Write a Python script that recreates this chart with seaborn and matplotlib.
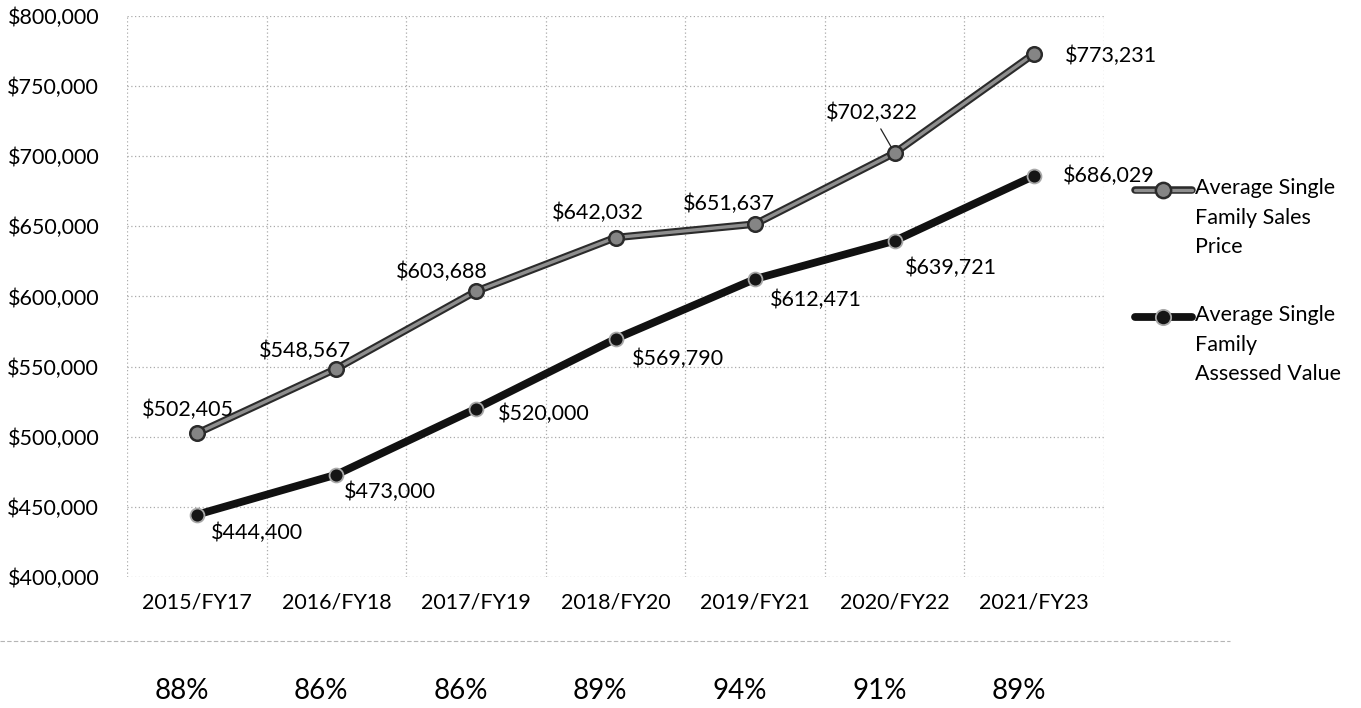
import matplotlib
matplotlib.use("Agg")
import matplotlib.pyplot as plt
import matplotlib.patheffects as pe
import matplotlib.transforms as mtransforms
from matplotlib.lines import Line2D
from matplotlib.ticker import FuncFormatter, MultipleLocator, FixedLocator
import numpy as np
import pandas as pd
import seaborn as sns

# ---- data -----------------------------------------------------------------
years = ["2015/FY17", "2016/FY18", "2017/FY19", "2018/FY20",
         "2019/FY21", "2020/FY22", "2021/FY23"]
sales_price = [502405, 548567, 603688, 642032, 651637, 702322, 773231]
assessed_value = [444400, 473000, 520000, 569790, 612471, 639721, 686029]
assessment_ratio = ["88%", "86%", "86%", "89%", "94%", "91%", "89%"]

series_names = ["Average Single Family Sales Price",
                "Average Single Family Assessed Value"]
legend_labels = ["Average Single\nFamily Sales\nPrice",
                 "Average Single\nFamily\nAssessed Value"]

# ---- label placement (pixel offsets from each point) ------------------------
sales_offsets = [(-9, 23), (-31, 18), (-34, 19), (-18, 25), (-26, 20), (-23, 40), (77, -2)]
assessed_offsets = [(60, -18), (54, -17), (68, -5), (62, -20), (61, -21), (56, -27), (75, 0)]

sns.set_theme(style="white")
plt.rcParams["font.family"] = ["Lato", "DejaVu Sans"]

df = pd.DataFrame({
    "year": years * 2,
    "value": sales_price + assessed_value,
    "series": [series_names[0]] * len(years) + [series_names[1]] * len(years),
})

W, H = 1361, 708
fig = plt.figure(figsize=(W / 100, H / 100), dpi=100)
fig.patch.set_facecolor("white")
ax = fig.add_axes([127 / W, 1 - 577 / H, (1104 - 127) / W, (577 - 16) / H])

sales_line = "#8e8e8e"
sales_edge = "#2b2b2b"
assessed_line = "#111111"

sns.lineplot(data=df, x="year", y="value", hue="series", sort=False,
             palette={series_names[0]: sales_line, series_names[1]: assessed_line},
             legend=False, ax=ax, zorder=3)
ax.lines[0].set_linewidth(2.4)
ax.lines[0].set_path_effects([pe.Stroke(linewidth=5.4, foreground=sales_edge), pe.Normal()])
ax.lines[1].set_linewidth(5.6)

sns.scatterplot(data=df[df["series"] == series_names[0]], x="year", y="value",
                color="#858585", edgecolor=sales_edge, linewidth=1.8, s=110,
                ax=ax, zorder=4, legend=False)
sns.scatterplot(data=df[df["series"] == series_names[1]], x="year", y="value",
                color="#151515", edgecolor="#a8a8a8", linewidth=1.3, s=100,
                ax=ax, zorder=4, legend=False)

# ---- axes, grid, ticks ----------------------------------------------------
ax.set_xlim(-0.5, len(years) - 0.5)
ax.set_ylim(400000, 800000)
ax.yaxis.set_major_locator(MultipleLocator(50000))
ax.yaxis.set_major_formatter(FuncFormatter(lambda v, _: f"${v:,.0f}"))
ax.xaxis.set_minor_locator(FixedLocator(np.arange(-0.5, len(years), 1.0)))
grid_kw = dict(color="#ababab", linewidth=0.9, linestyle=(0, (1, 2)))
ax.grid(axis="y", which="major", **grid_kw)
ax.grid(axis="x", which="minor", **grid_kw)
ax.grid(axis="x", which="major", visible=False)
for s in ax.spines.values():
    s.set_visible(False)
ax.set_xlabel("")
ax.set_ylabel("")
ax.tick_params(axis="both", which="both", length=0)
ax.tick_params(axis="y", labelsize=15.5, pad=20, labelcolor="black")
ax.tick_params(axis="x", labelsize=15.5, pad=11, labelcolor="black")

# ---- data labels ----------------------------------------------------------
for i, (v, off) in enumerate(zip(sales_price, sales_offsets)):
    kw = {}
    if years[i] == "2020/FY22":
        kw["arrowprops"] = dict(arrowstyle="-", color="#222222", lw=0.9,
                                shrinkA=2, shrinkB=5)
    ax.annotate(f"${v:,}", (i, v), xytext=off, textcoords="offset pixels",
                ha="center", va="center", fontsize=15.5, color="black",
                zorder=5, **kw)
for i, (v, off) in enumerate(zip(assessed_value, assessed_offsets)):
    ax.annotate(f"${v:,}", (i, v), xytext=off, textcoords="offset pixels",
                ha="center", va="center", fontsize=15.5, color="black", zorder=5)

# ---- ratio row beneath the chart -----------------------------------------
row_tf = mtransforms.blended_transform_factory(ax.transData, fig.transFigure)
for i, r in enumerate(assessment_ratio):
    ax.text(i - 0.11, 1 - 691 / H, r, transform=row_tf, ha="center",
            va="center", fontsize=20, color="black", clip_on=False)

fig.add_artist(Line2D([0, 1230 / W], [1 - 641 / H] * 2, color="#b5b5b5",
                      lw=0.8, linestyle=(0, (4, 2))))

# ---- legend ---------------------------------------------------------------
def legend_entry(y_px, label, line_kw, effects, marker_kw):
    y = 1 - y_px / H
    fig.add_artist(Line2D([1135 / W, 1192 / W], [y, y], path_effects=effects, **line_kw))
    fig.add_artist(Line2D([1163 / W], [y], linestyle="none", marker="o", **marker_kw))
    fig.text(1195 / W, y + 12 / H, label, ha="left", va="top",
             fontsize=15.5, linespacing=1.6, color="black")

legend_entry(190, legend_labels[0],
             dict(color=sales_line, lw=2.4),
             [pe.Stroke(linewidth=5.4, foreground=sales_edge), pe.Normal()],
             dict(markersize=11, markerfacecolor="#858585",
                  markeredgecolor=sales_edge, markeredgewidth=1.8))
legend_entry(317, legend_labels[1],
             dict(color=assessed_line, lw=5.6), None,
             dict(markersize=11, markerfacecolor="#151515",
                  markeredgecolor="#a8a8a8", markeredgewidth=1.3))

fig.savefig("out.png", dpi=100, facecolor="white")
